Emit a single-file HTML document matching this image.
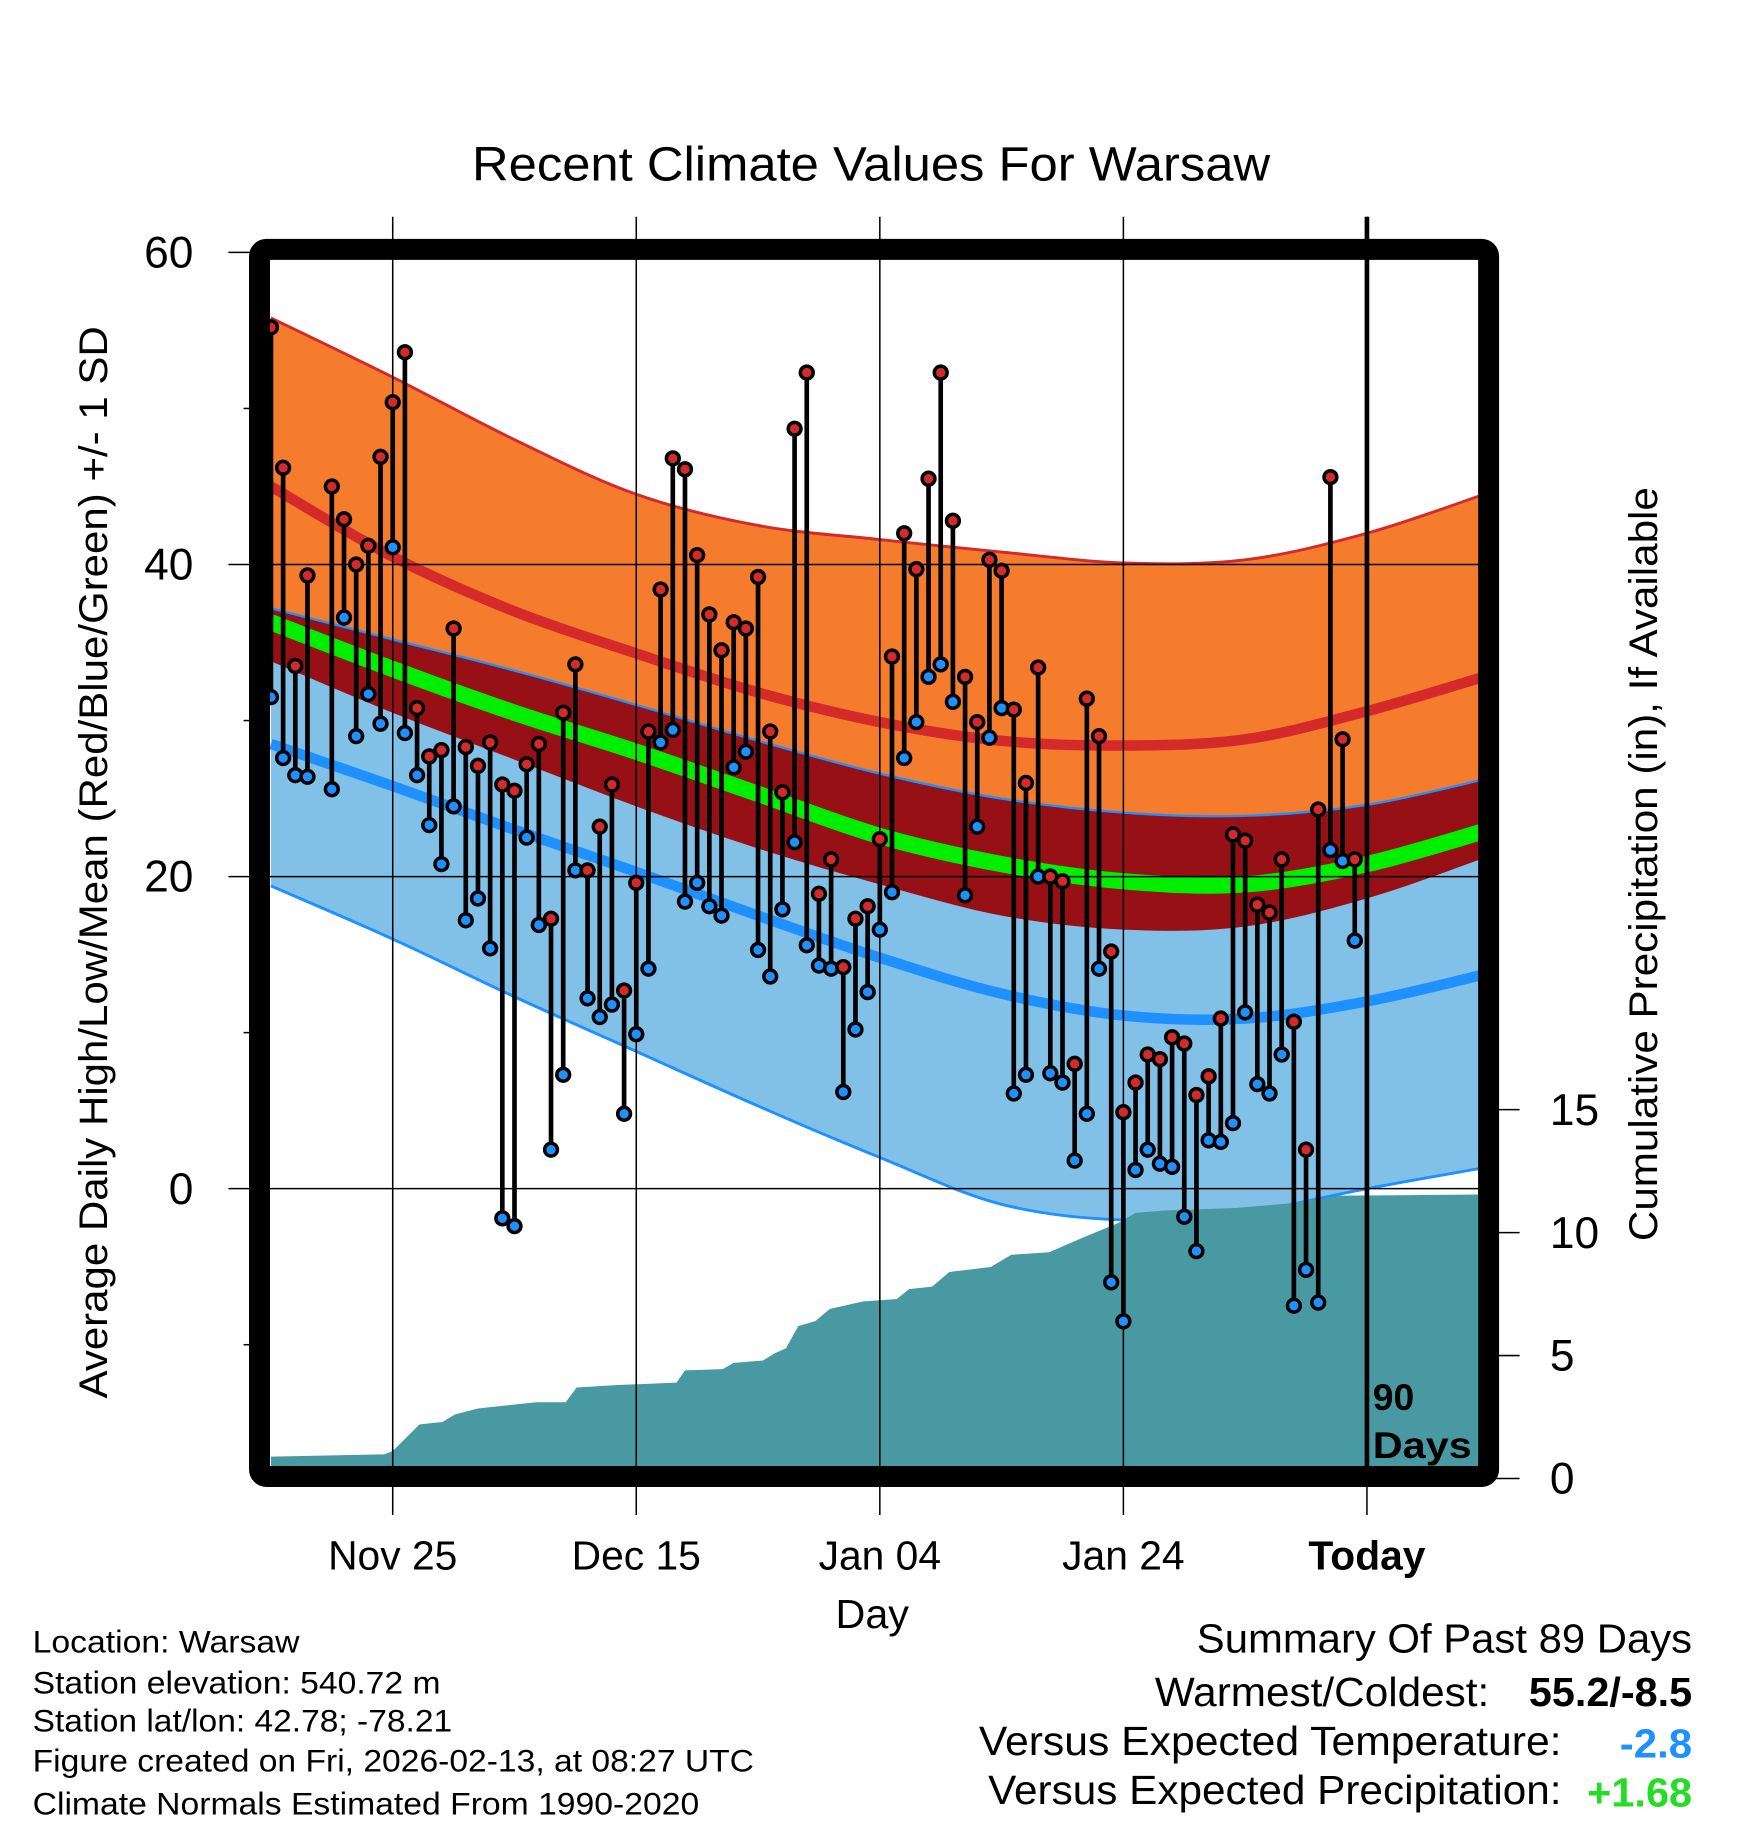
<!DOCTYPE html>
<html><head><meta charset="utf-8"><style>
html,body{margin:0;padding:0;background:#fff;}
svg{display:block;font-family:"Liberation Sans",sans-serif;}
</style></head><body>
<svg id="chart" width="1748" height="1828" viewBox="0 0 1500 1568.6" preserveAspectRatio="none" xmlns="http://www.w3.org/2000/svg">
<defs><clipPath id="plotclip"><rect x="231.7" y="223" width="1036.7" height="1037"/></clipPath></defs>
<rect x="0" y="0" width="1500" height="1568.6" fill="#fff"/>
<text x="405" y="155" font-size="41" textLength="685" lengthAdjust="spacingAndGlyphs">Recent Climate Values For Warsaw</text>
<g id="grid"></g>
<g id="plot"></g>
<g id="dots"></g>
<rect x="222.7" y="214" width="1054.7" height="1053" rx="6" fill="none" stroke="#000" stroke-width="18"/>
<g id="axes"></g>
<text x="1178" y="1210" font-size="32" font-weight="bold">90</text>
<text x="1178" y="1251" font-size="32" font-weight="bold" textLength="85" lengthAdjust="spacingAndGlyphs">Days</text>
<text x="717" y="1397" font-size="35" textLength="63" lengthAdjust="spacingAndGlyphs">Day</text>
<text transform="translate(92,1200) rotate(-90)" font-size="34" textLength="920" lengthAdjust="spacingAndGlyphs">Average Daily High/Low/Mean (Red/Blue/Green) +/- 1 SD</text>
<text transform="translate(1422,1065) rotate(-90)" font-size="34" textLength="647" lengthAdjust="spacingAndGlyphs">Cumulative Precipitation (in), If Available</text>
<g font-size="27">
<text x="28" y="1418" textLength="229" lengthAdjust="spacingAndGlyphs">Location: Warsaw</text>
<text x="28" y="1453" textLength="350" lengthAdjust="spacingAndGlyphs">Station elevation: 540.72 m</text>
<text x="28" y="1486" textLength="360" lengthAdjust="spacingAndGlyphs">Station lat/lon: 42.78; -78.21</text>
<text x="28" y="1520" textLength="619" lengthAdjust="spacingAndGlyphs">Figure created on Fri, 2026-02-13, at 08:27 UTC</text>
<text x="28" y="1557" textLength="572" lengthAdjust="spacingAndGlyphs">Climate Normals Estimated From 1990-2020</text>
</g>
<g font-size="35">
<text x="1027" y="1418" textLength="425" lengthAdjust="spacingAndGlyphs">Summary Of Past 89 Days</text>
<text x="991" y="1464" textLength="287" lengthAdjust="spacingAndGlyphs">Warmest/Coldest:</text>
<text x="1312" y="1464" font-weight="bold" textLength="140" lengthAdjust="spacingAndGlyphs">55.2/-8.5</text>
<text x="840" y="1506" textLength="500" lengthAdjust="spacingAndGlyphs">Versus Expected Temperature:</text>
<text x="1390" y="1508" font-weight="bold" fill="#1e90ff" textLength="62" lengthAdjust="spacingAndGlyphs">-2.8</text>
<text x="848" y="1548" textLength="492" lengthAdjust="spacingAndGlyphs">Versus Expected Precipitation:</text>
<text x="1362" y="1550" font-weight="bold" fill="#22dd22" textLength="90" lengthAdjust="spacingAndGlyphs">+1.68</text>
</g>
</svg>
<script>
// ---- data ----
const dayIdx = [0,1,2,3,5,6,7,8,9,10,11,12,13,14,15,16,17,18,19,20,21,22,23,24,25,26,27,28,29,30,31,32,33,34,35,36,37,38,39,40,41,42,43,44,45,46,47,48,49,50,51,52,53,54,55,56,57,58,59,60,61,62,63,64,65,66,67,68,69,70,71,72,73,74,75,76,77,78,79,80,81,82,83,84,85,86,87,88,89];
const highs = [55.2,46.2,33.5,39.3,45.0,42.9,40.0,41.2,46.9,50.4,53.6,30.8,27.7,28.1,35.9,28.3,27.1,28.6,25.9,25.5,27.2,28.5,17.3,30.5,33.6,20.4,23.2,25.9,12.7,19.6,29.3,38.4,46.8,46.1,40.6,36.8,34.5,36.3,35.9,39.2,29.3,25.4,48.7,52.3,18.9,21.1,14.2,17.3,18.1,22.4,34.1,42.0,39.7,45.5,52.3,42.8,32.8,29.9,40.3,39.6,30.7,26.0,33.4,20.0,19.7,8.0,31.4,29.0,15.2,4.9,6.8,8.6,8.3,9.7,9.3,6.0,7.2,10.9,22.7,22.3,18.2,17.7,21.1,10.7,2.5,24.3,45.6,28.8,21.1];
const lows = [31.5,27.6,26.5,26.4,25.6,36.6,29.0,31.7,29.8,41.1,29.2,26.5,23.3,20.8,24.5,17.2,18.6,15.4,-1.9,-2.4,22.5,16.9,2.5,7.3,20.4,12.2,11.0,11.8,4.8,9.9,14.1,28.6,29.4,18.4,19.6,18.1,17.5,27.0,28.0,15.3,13.6,17.9,22.2,15.6,14.3,14.1,6.2,10.2,12.6,16.6,19.0,27.6,29.9,32.8,33.6,31.2,18.8,23.2,28.9,30.8,6.1,7.3,20.0,7.4,6.8,1.8,4.8,14.1,-6.0,-8.5,1.2,2.5,1.6,1.4,-1.8,-4.0,3.1,3.0,4.2,11.3,6.7,6.1,8.6,-7.5,-5.2,-7.3,21.7,21.0,15.9];
const normDays = [0,10,20,30,40,50,60,70,80,90,100];
const highPlusSD = [55.8,52.0,48.0,44.5,42.5,41.6,40.8,40.1,40.3,42.0,44.6];
const highMean = [45.0,40.5,37.0,34.3,31.8,29.9,28.7,28.4,28.8,30.6,32.9];
const highMinusSD = [33.8,30.5,27.5,24.5,21.8,19.5,17.5,16.6,16.8,18.6,21.3];
const lowPlusSD = [37.2,35.2,33.2,31.0,28.7,26.6,25.0,24.1,23.9,24.6,26.3];
const meanTemp = [36.3,33.3,30.5,28.0,25.3,22.6,20.8,19.7,19.5,20.8,23.0];
const lowMean = [28.5,25.8,23.0,20.3,17.5,14.8,12.5,11.1,10.9,12.0,13.8];
const lowMinusSD = [19.4,16.0,12.3,8.8,5.3,2.0,-1.0,-2.0,-1.5,0.0,1.4];
const precipDays = [0,9.3,10,12.2,14.1,15.1,17,21.8,24.2,25.1,28.5,33.3,34,37.1,38,40.4,41.4,42.3,43.3,44.7,45.9,48.6,51.4,52.4,54.3,55.7,59.1,60.8,63.9,66.7,69.6,71,73.4,79.2,84,87.8,99.5];
const precipVals = [0.89,0.98,1.12,2.2,2.3,2.6,2.85,3.1,3.1,3.7,3.8,3.9,4.4,4.45,4.7,4.8,5.1,5.3,6.2,6.4,6.9,7.2,7.3,7.7,7.8,8.4,8.6,9.1,9.2,9.8,10.4,10.8,10.9,11.0,11.2,11.5,11.55];
const yTicks = [60,40,20,0];
const yMinor = [50,30,10,-10];
const xTickDays = [10,30,50,70,90];
const xTickLabels = ["Nov 25","Dec 15","Jan 04","Jan 24","Today"];
const pTicks = [0,5,10,15];
const todayDay = 90;

// ---- scales ----
const xS = d => 232.5 + 10.45*d;
const yS = t => 1020 - 13.39*t;
const pS = p => 1268.7 - 21.1*p;
const NS = "http://www.w3.org/2000/svg";
function mk(tag, attrs, parent){const e=document.createElementNS(NS,tag);for(const k in attrs)e.setAttribute(k,attrs[k]);parent.appendChild(e);return e;}
const grid=document.getElementById('grid'), plot=document.getElementById('plot'), dots=document.getElementById('dots'), axes=document.getElementById('axes');
function smoothPts(arr){
  const P=arr.map((v,i)=>[xS(normDays[i]),yS(v)]);
  return P;
}
function crPath(P, start){
  let d=(start?'M':'L')+P[0][0].toFixed(1)+','+P[0][1].toFixed(1);
  for(let i=0;i<P.length-1;i++){
    const p0=P[Math.max(0,i-1)],p1=P[i],p2=P[i+1],p3=P[Math.min(P.length-1,i+2)];
    const c1=[p1[0]+(p2[0]-p0[0])/6,p1[1]+(p2[1]-p0[1])/6];
    const c2=[p2[0]-(p3[0]-p1[0])/6,p2[1]-(p3[1]-p1[1])/6];
    d+=' C'+c1[0].toFixed(1)+','+c1[1].toFixed(1)+' '+c2[0].toFixed(1)+','+c2[1].toFixed(1)+' '+p2[0].toFixed(1)+','+p2[1].toFixed(1);
  }
  return d;
}
function band(top,bot,fill,name){
  const d=crPath(smoothPts(top),true)+' '+crPath(smoothPts(bot).reverse(),false)+' Z';
  const p=mk('path',{d:d,fill:fill,'clip-path':'url(#plotclip)'},plot);
  
  
}
function line(arr,color,w,name){
  const p=mk('path',{d:crPath(smoothPts(arr),true),fill:'none',stroke:color,'stroke-width':w,'clip-path':'url(#plotclip)'},plot);
  
  
}
band(highPlusSD,highMinusSD,'#f57b2d','high-sd-band');
band(lowPlusSD,lowMinusSD,'#82c1e7','low-sd-band');
band(lowPlusSD,highMinusSD,'#961015','overlap-band');
line(highPlusSD,'#d42a2a',2.5,'high-plus-sd-line');
line(lowPlusSD,'#1e90ff',2,'low-plus-sd-line');
line(lowMinusSD,'#1e90ff',2.5,'low-minus-sd-line');
line(highMean,'#d42a2a',9,'high-mean-line');
line(lowMean,'#1e90ff',9,'low-mean-line');
line(meanTemp,'#00ee00',14,'mean-line');
// precipitation
{
  let d='M'+xS(precipDays[0]).toFixed(1)+','+pS(0);
  precipDays.forEach((dd,i)=>{d+=' L'+xS(dd).toFixed(1)+','+pS(precipVals[i]).toFixed(1);});
  d+=' L'+xS(precipDays[precipDays.length-1]).toFixed(1)+','+pS(0)+' Z';
  const p=mk('path',{d:d,fill:'#4899a1','clip-path':'url(#plotclip)'},plot);
  
  
}
// gridlines
yTicks.forEach(t=>{
  const l=mk('line',{x1:196,x2:1270,y1:yS(t),y2:yS(t),stroke:'#000','stroke-width':1.3},plot);
  
  
  const tx=mk('text',{x:166,y:yS(t)+13,'font-size':38,'text-anchor':'end'},axes);
  tx.textContent=t;
  
  
});
yMinor.forEach(t=>{
  const l=mk('line',{x1:209,x2:222,y1:yS(t),y2:yS(t),stroke:'#000','stroke-width':1.3},axes);
  
  
});
xTickDays.forEach((d,i)=>{
  const l=mk('line',{x1:xS(d),x2:xS(d),y1:186,y2:1300,stroke:'#000','stroke-width':1.3},plot);
  
  
  const tx=mk('text',{x:xS(d),y:1347,'font-size':35,'text-anchor':'middle','font-weight':i===4?'bold':'normal'},axes);
  tx.textContent=xTickLabels[i];
  
  
});
pTicks.forEach(p=>{
  const l=mk('line',{x1:1280,x2:1304,y1:pS(p),y2:pS(p),stroke:'#000','stroke-width':1.3},axes);
  
  
  const tx=mk('text',{x:1330,y:pS(p)+13,'font-size':38},axes);
  tx.textContent=p;
  
  
});
{
  const l=mk('line',{x1:xS(todayDay),x2:xS(todayDay),y1:186,y2:1262,stroke:'#000','stroke-width':4},plot);
  
  
}
// daily stems + dots
dayIdx.forEach((d,i)=>{
  const x=xS(d);
  const s=mk('line',{x1:x,x2:x,y1:yS(highs[i]),y2:yS(lows[i]),stroke:'#000','stroke-width':4},dots);
  
  
  const h=mk('circle',{cx:x,cy:yS(highs[i]),r:5.5,fill:'#d42a2a',stroke:'#000','stroke-width':3},dots);
  
  
  const lo=mk('circle',{cx:x,cy:yS(lows[i]),r:5.5,fill:'#1e90ff',stroke:'#000','stroke-width':3},dots);
  
  
});
</script>
</body></html>
